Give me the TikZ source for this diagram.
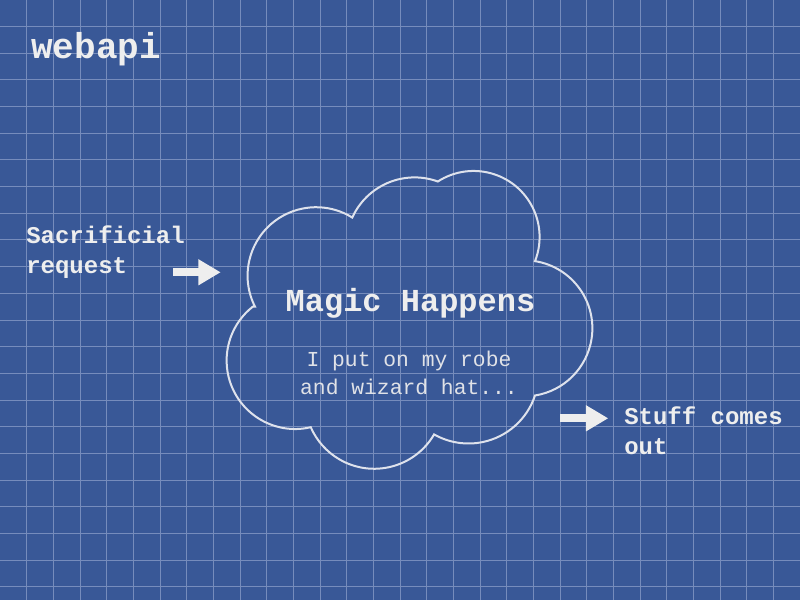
\documentclass[tikz,border=0pt]{standalone}
\usepackage{fontspec}
\setmonofont{Liberation Mono}
\usepackage{tikz}
\usetikzlibrary{arrows.meta}
\definecolor{blueprint}{RGB}{57,88,151}
\definecolor{blueprintgrid}{RGB}{118,140,188}
\definecolor{chalk}{RGB}{238,238,238}
\definecolor{cloudline}{RGB}{222,226,236}
\tikzset{
    grid line/.style={
        blueprintgrid,line width=0.75pt
    },
    heading text/.style={
        text=chalk,inner sep=0pt,
        font=\ttfamily\bfseries\fontsize{27}{32}\selectfont
    },
    note text/.style={
        text=chalk,inner sep=0pt,align=left,
        font=\ttfamily\bfseries\fontsize{18}{22.5}\selectfont
    },
    magic text/.style={
        text=chalk,inner sep=0pt,align=center,
        font=\ttfamily\bfseries\fontsize{24}{28}\selectfont
    },
    aside text/.style={
        text=chalk!92!blueprint,inner sep=0pt,align=center,
        font=\ttfamily\fontsize{16}{20.8}\selectfont
    },
    cloud line/.style={
        draw=cloudline,line width=1.5pt,line join=miter
    },
    flow arrow/.style={
        draw=chalk,line width=6.2pt,
        -{Triangle[length=16.8pt,width=18.5pt]}
    }
}
\begin{document}
\begin{tikzpicture}[x=0.75pt,y=0.75pt]
\useasboundingbox (0,0) rectangle (800,600);
\fill[blueprint] (0,0) rectangle (800,600);
% grid
\foreach \i in {1,...,29}
    \draw[grid line] (26.667*\i,0) -- (26.667*\i,600);
\foreach \j in {1,...,22}
    \draw[grid line] (0,600-26.667*\j) -- (800,600-26.667*\j);
% the cloud
\draw[cloud line] (255,293.3)
    arc[start angle=206.9,end angle=58.1,radius=68.5]
    arc[start angle=155.6,end angle=70.1,radius=68.4]
    arc[start angle=122.8,end angle=-21.5,radius=66]
    arc[start angle=81,end angle=-81,radius=68]
    arc[start angle=-18.3,end angle=-119.5,radius=70]
    arc[start angle=-30.3,end angle=-156.4,radius=69.3]
    arc[start angle=-76.8,end angle=-231.8,radius=68.5] -- cycle;
% last line sits on the anchor
\node[heading text,anchor=base west] (title) at (31,541.7) {webapi};
\node[note text,anchor=base west] (request) at (26,326.7) {Sacrificial\\request};
\node[magic text,anchor=base] (magic) at (410.5,288.3) {Magic Happens};
\node[aside text,anchor=base] (robe) at (409,205.7) {I put on my robe\\and wizard hat...};
\node[note text,anchor=base west] (output) at (624,145.7) {Stuff comes\\out};
\coordinate (request tail) at (173.3,327.7);
\coordinate (request tip) at (220.7,327.7);
\coordinate (output tail) at (560,181.7);
\coordinate (output tip) at (608.3,181.7);
\draw[flow arrow] (request tail) -- (request tip);
\draw[flow arrow] (output tail) -- (output tip);
\end{tikzpicture}
\end{document}
